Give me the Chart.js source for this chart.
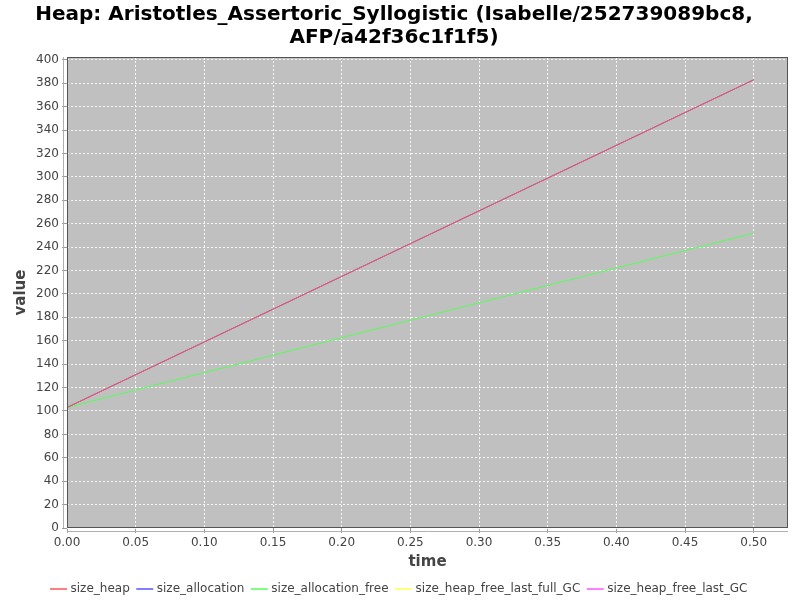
<!DOCTYPE html>
<html>
<head>
<meta charset="utf-8">
<script src="https://cdn.jsdelivr.net/npm/chart.js@4"></script>
<style>
  html, body { margin: 0; padding: 0; background: #ffffff; }
  #wrap { width: 800px; height: 600px; }
</style>
</head>
<body>
<div id="wrap"><canvas id="heapChart" width="800" height="600"></canvas></div>
<script>
// data
const times = [0.0, 0.5];
const sizeHeap = [103, 383];
const sizeAllocation = [103, 383];
const sizeAllocationFree = [103, 252];
const sizeHeapFreeLastFullGC = [0, 0];
const sizeHeapFreeLastGC = [0, 0];

const xTicks = [0.00, 0.05, 0.10, 0.15, 0.20, 0.25, 0.30, 0.35, 0.40, 0.45, 0.50];
const yTicks = [0, 20, 40, 60, 80, 100, 120, 140, 160, 180, 200, 220, 240, 260, 280, 300, 320, 340, 360, 380, 400];

const seriesColors = {
    size_heap: 'rgb(255, 85, 85)',
    size_allocation: 'rgb(85, 85, 255)',
    size_allocation_free: 'rgb(85, 255, 85)',
    size_heap_free_last_full_GC: 'rgb(255, 255, 85)',
    size_heap_free_last_GC: 'rgb(255, 85, 255)'
};

function points(values) {
    return values.map((v, i) => ({ x: times[i], y: v }));
}

function makeSet(label, values) {
    return {
        label: label,
        data: points(values),
        borderColor: seriesColors[label],
        backgroundColor: seriesColors[label],
        borderWidth: 1,
        pointRadius: 0,
        tension: 0
    };
}

// gray plot background, offset axis lines and the plot frame
const plotFrame = {
    id: 'plotFrame',
    afterLayout(chart) {
        // legend is centred on the whole canvas in the reference
        chart.legend.left += 6;
        chart.legend.right += 6;
    },
    beforeDraw(chart) {
        const a = chart.chartArea;
        const ctx = chart.ctx;
        ctx.save();
        ctx.fillStyle = '#c0c0c0';
        ctx.fillRect(a.left, a.top, a.right - a.left, a.bottom - a.top);
        ctx.restore();
    },
    afterDraw(chart) {
        const a = chart.chartArea;
        const ctx = chart.ctx;
        ctx.save();
        ctx.strokeStyle = '#555555';
        ctx.lineWidth = 1;
        ctx.strokeRect(a.left + 0.5, a.top + 0.5, a.right - a.left - 1, a.bottom - a.top - 1);
        ctx.strokeStyle = '#b0b0b0';
        ctx.beginPath();
        ctx.moveTo(a.left - 3.5, a.top);
        ctx.lineTo(a.left - 3.5, a.bottom);
        ctx.moveTo(a.left, a.bottom + 3.5);
        ctx.lineTo(a.right, a.bottom + 3.5);
        ctx.stroke();
        ctx.restore();
    }
};

const ctx = document.getElementById('heapChart').getContext('2d');

const heapChart = new Chart(ctx, {
    type: 'line',
    data: {
        datasets: [
            makeSet('size_heap', sizeHeap),
            makeSet('size_allocation', sizeAllocation),
            makeSet('size_allocation_free', sizeAllocationFree),
            makeSet('size_heap_free_last_full_GC', sizeHeapFreeLastFullGC),
            makeSet('size_heap_free_last_GC', sizeHeapFreeLastGC)
        ]
    },
    options: {
        responsive: false,
        animation: false,
        layout: {
            // negative bottom pushes the legend a little lower, as in the reference
            padding: { left: 0, right: 12, top: 0, bottom: -5 }
        },
        plugins: {
            title: {
                display: true,
                text: ['Heap: Aristotles_Assertoric_Syllogistic (Isabelle/252739089bc8,', 'AFP/a42f36c1f1f5)'],
                color: '#000000',
                font: { family: 'DejaVu Sans', size: 20, weight: 'bold', lineHeight: 1.15 },
                padding: { top: 3, bottom: 8 }
            },
            legend: {
                position: 'bottom',
                labels: {
                    color: '#444444',
                    font: { family: 'DejaVu Sans', size: 12 },
                    usePointStyle: true,
                    pointStyle: 'line',
                    boxWidth: 14,
                    padding: 9,
                    generateLabels: function(chart) {
                        const items = Chart.defaults.plugins.legend.labels.generateLabels(chart);
                        items.forEach(item => { item.lineWidth = 1.5; });
                        return items;
                    }
                }
            },
            tooltip: { enabled: false }
        },
        scales: {
            x: {
                type: 'linear',
                min: 0,
                max: 0.525,
                afterBuildTicks: function(scale) {
                    scale.ticks = xTicks.map(v => ({ value: v }));
                },
                afterFit: function(scale) {
                    scale.height = 46;
                },
                border: { display: false },
                grid: {
                    color: 'rgba(255, 255, 255, 0.85)',
                    tickColor: '#999999',
                    tickLength: 5,
                    drawTicks: true
                },
                ticks: {
                    color: '#444444',
                    font: { family: 'DejaVu Sans', size: 12 },
                    padding: 3,
                    maxRotation: 0,
                    callback: v => v.toFixed(2)
                },
                title: {
                    display: true,
                    text: 'time',
                    color: '#444444',
                    font: { family: 'DejaVu Sans', size: 15, weight: 'bold' },
                    padding: { top: 0, bottom: 3 }
                }
            },
            y: {
                type: 'linear',
                min: 0,
                max: 402.5,
                afterBuildTicks: function(scale) {
                    scale.ticks = yTicks.map(v => ({ value: v }));
                },
                afterFit: function(scale) {
                    scale.width = 67;
                },
                border: { display: false },
                grid: {
                    color: 'rgba(255, 255, 255, 0.85)',
                    tickColor: '#999999',
                    tickLength: 5
                },
                ticks: {
                    color: '#444444',
                    font: { family: 'DejaVu Sans', size: 12 },
                    padding: 3
                },
                title: {
                    display: true,
                    text: 'value',
                    color: '#444444',
                    font: { family: 'DejaVu Sans', size: 15, weight: 'bold' },
                    padding: { top: 12, bottom: 0 }
                }
            }
        }
    },
    plugins: [plotFrame]
});

// dashed white grid lines like the reference
heapChart.options.scales.x.grid.borderDash = [2, 2];
heapChart.options.scales.x.border.dash = [2, 2];
heapChart.options.scales.y.border.dash = [2, 2];
heapChart.update();
</script>
</body>
</html>
